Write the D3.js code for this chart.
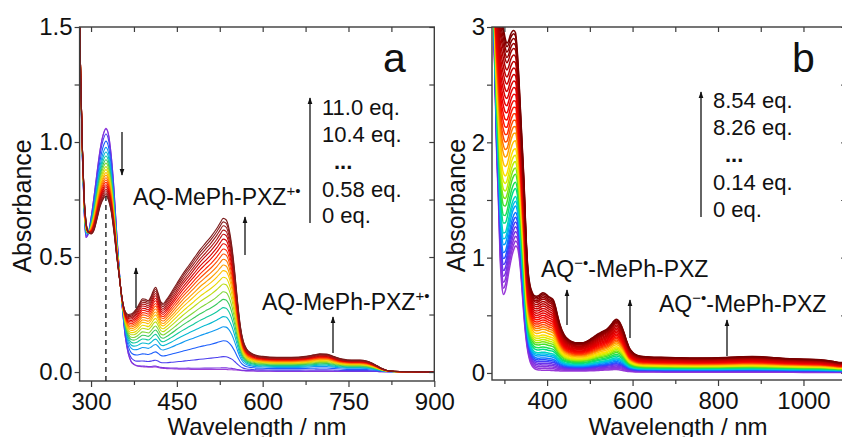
<!DOCTYPE html>
<html>
<head>
<meta charset="utf-8">
<script src="https://cdn.jsdelivr.net/npm/d3@7"></script>
<style>
  html, body { margin: 0; padding: 0; background: #fff; }
  svg text { font-family: "Liberation Sans", Arial, Helvetica, sans-serif; fill: #111; }
</style>
</head>
<body>
<svg id="chart" width="842" height="437"></svg>
<script>
// ---------- Panel a: titration with oxidant (AQ-MePh-PXZ radical cation) ----------
const wavelengthsA = [280, 282, 285, 288, 291, 295, 300, 305, 310, 316, 322, 326, 330, 335, 340, 345, 350, 355, 360, 365,
  370, 375, 380, 385, 390, 395, 400, 405, 410, 413, 417, 422, 426, 432, 440, 450, 460, 470, 480, 490,
  500, 510, 520, 526, 531, 536, 541, 546, 551, 556, 561, 566, 572, 580, 590, 600, 625, 650, 675, 690,
  700, 712, 725, 740, 755, 770, 782, 792, 800, 808, 816, 825, 840, 870, 900];
// spectrum at 0 eq.
const absStartA = [1.55, 1.25, 0.92, 0.70, 0.585, 0.60, 0.67, 0.76, 0.86, 0.97, 1.04, 1.06, 1.04, 0.95, 0.80, 0.60, 0.42, 0.27, 0.15, 0.08,
  0.045, 0.032, 0.026, 0.024, 0.023, 0.022, 0.021, 0.021, 0.022, 0.022, 0.020, 0.017, 0.016, 0.015, 0.014, 0.013, 0.012, 0.012, 0.011, 0.011,
  0.011, 0.011, 0.011, 0.011, 0.011, 0.011, 0.010, 0.010, 0.009, 0.008, 0.007, 0.006, 0.005, 0.005, 0.004, 0.004, 0.003, 0.003, 0.003, 0.003,
  0.003, 0.003, 0.003, 0.002, 0.002, 0.002, 0.002, 0.002, 0.002, 0.001, 0.001, 0.001, 0.001, 0.000, 0.000];
// spectrum at 11.0 eq.
const absEndA = [1.55, 1.28, 0.97, 0.76, 0.66, 0.61, 0.60, 0.615, 0.66, 0.72, 0.755, 0.765, 0.75, 0.70, 0.61, 0.50, 0.40, 0.31, 0.262, 0.250,
  0.252, 0.262, 0.278, 0.300, 0.318, 0.316, 0.310, 0.330, 0.360, 0.368, 0.345, 0.305, 0.298, 0.315, 0.345, 0.385, 0.425, 0.460, 0.495, 0.530,
  0.560, 0.590, 0.625, 0.650, 0.668, 0.662, 0.625, 0.550, 0.440, 0.310, 0.200, 0.135, 0.100, 0.082, 0.072, 0.068, 0.064, 0.064, 0.068, 0.075,
  0.079, 0.078, 0.067, 0.056, 0.052, 0.052, 0.048, 0.038, 0.027, 0.016, 0.008, 0.004, 0.002, 0.001, 0.000];
// absorbance at 531 nm of every recorded spectrum, 0 eq. -> 11.0 eq.
const peak531A = [0.011, 0.018, 0.067, 0.136, 0.197, 0.241, 0.280, 0.316, 0.349, 0.383, 0.412, 0.441,
  0.465, 0.490, 0.513, 0.535, 0.558, 0.578, 0.599, 0.617, 0.636, 0.653, 0.668];
const legendA = ["11.0 eq.", "10.4 eq.", "...", "0.58 eq.", "0 eq."];
const xTicksA = [300, 450, 600, 750, 900];
const yTicksA = [0.0, 0.5, 1.0, 1.5];

// ---------- Panel b: titration with reductant (AQ radical anion) ----------
const wavelengthsB = [270, 274, 278, 282, 286, 290, 294, 298, 302, 306, 310, 314, 318, 322, 326, 330, 334, 338, 342, 346,
  350, 355, 360, 365, 370, 375, 380, 385, 390, 395, 400, 405, 410, 415, 420, 425, 430, 440, 450, 460,
  470, 480, 490, 500, 510, 520, 530, 540, 550, 556, 562, 568, 574, 580, 586, 592, 600, 610, 620, 635,
  650, 675, 700, 750, 800, 850, 880, 910, 950, 1000, 1040, 1070, 1085, 1100];
// spectrum at 0 eq.
const absStartB = [3.50, 3.15, 2.55, 1.90, 1.50, 1.00, 0.76, 0.68, 0.71, 0.78, 0.87, 0.95, 1.02, 1.07, 1.10, 1.09, 1.02, 0.88, 0.68, 0.48,
  0.32, 0.18, 0.10, 0.06, 0.04, 0.030, 0.026, 0.025, 0.024, 0.024, 0.024, 0.023, 0.022, 0.021, 0.020, 0.019, 0.018, 0.017, 0.017, 0.017,
  0.017, 0.017, 0.018, 0.019, 0.020, 0.022, 0.024, 0.026, 0.028, 0.030, 0.030, 0.028, 0.024, 0.019, 0.015, 0.012, 0.010, 0.009, 0.008, 0.008,
  0.008, 0.007, 0.007, 0.007, 0.006, 0.006, 0.006, 0.006, 0.006, 0.005, 0.005, 0.005, 0.005, 0.005];
// spectrum at 8.54 eq.
const absEndB = [3.60, 3.50, 3.40, 3.30, 3.20, 3.12, 3.05, 2.98, 2.90, 2.86, 2.88, 2.93, 2.96, 2.97, 2.95, 2.80, 2.55, 2.25, 1.95, 1.65,
  1.25, 0.90, 0.76, 0.70, 0.67, 0.665, 0.670, 0.685, 0.695, 0.690, 0.675, 0.660, 0.650, 0.630, 0.570, 0.490, 0.420, 0.330, 0.290, 0.270,
  0.262, 0.262, 0.270, 0.290, 0.315, 0.340, 0.360, 0.380, 0.420, 0.450, 0.465, 0.450, 0.410, 0.350, 0.280, 0.220, 0.180, 0.155, 0.145, 0.140,
  0.137, 0.135, 0.133, 0.130, 0.133, 0.140, 0.143, 0.138, 0.128, 0.120, 0.115, 0.100, 0.090, 0.090];
// absorbance at 390 nm of every recorded spectrum, 0 eq. -> 8.54 eq.
const band390B = [0.024, 0.040, 0.055, 0.070, 0.085, 0.100, 0.115, 0.130, 0.150, 0.165, 0.180, 0.205, 0.225,
  0.250, 0.270, 0.290, 0.310, 0.330, 0.355, 0.380, 0.400, 0.420, 0.440, 0.460, 0.480, 0.500, 0.520,
  0.540, 0.560, 0.580, 0.600, 0.620, 0.640, 0.655, 0.670, 0.685, 0.695];
const legendB = ["8.54 eq.", "8.26 eq.", "...", "0.14 eq.", "0 eq."];
const xTicksB = [400, 600, 800, 1000];
const yTicksB = [0, 1, 2, 3];

// ---------- helpers ----------
const svg = d3.select("#chart");
const frameColor = "#3c3c3c";

// Each recorded spectrum is the two-component mixture whose weight
// reproduces its absorbance at the reference band.
function buildSpectra(wl, start, end, refWl, refValues) {
  const k = wl.indexOf(refWl);
  return refValues.map(v => {
    const w = (v - start[k]) / (end[k] - start[k]);
    return wl.map((l, i) => [l, start[i] + w * (end[i] - start[i])]);
  });
}

const defs = svg.append("defs");
defs.append("marker")
  .attr("id", "head").attr("viewBox", "0 0 10 10")
  .attr("refX", 9).attr("refY", 5)
  .attr("markerWidth", 7).attr("markerHeight", 7)
  .attr("markerUnits", "userSpaceOnUse")
  .attr("orient", "auto")
  .append("path").attr("d", "M0,1.5 L10,5 L0,8.5 Z").attr("fill", "#111");

function arrow(x, y1, y2) {
  svg.append("line")
    .attr("x1", x).attr("x2", x).attr("y1", y1).attr("y2", y2)
    .attr("stroke", "#111").attr("stroke-width", 1.3)
    .attr("marker-end", "url(#head)");
}

function drawPanel(p) {
  const x = d3.scaleLinear().domain(p.xDomain).range([p.left, p.right]);
  const y = d3.scaleLinear().domain(p.yDomain).range([p.bottom, p.top]);
  const g = svg.append("g");

  defs.append("clipPath").attr("id", "clip-" + p.id)
    .append("rect")
    .attr("x", p.left).attr("y", p.top)
    .attr("width", p.right - p.left).attr("height", p.bottom - p.top);

  const colour = d3.piecewise(d3.interpolateRgb, p.palette);
  const line = d3.line().x(d => x(d[0])).y(d => y(d[1])).curve(d3.curveMonotoneX);
  const n = p.spectra.length;
  g.append("g").attr("clip-path", `url(#clip-${p.id})`)
    .selectAll("path").data(p.spectra).join("path")
    .attr("d", line)
    .attr("fill", "none")
    .attr("stroke", (d, i) => colour(i / (n - 1)))
    .attr("stroke-width", p.lineWidth);

  // axes
  const bottom = g.append("g").attr("transform", `translate(0,${p.bottom})`);
  bottom.call(d3.axisBottom(x).tickValues(p.xTicks).tickSize(6).tickPadding(6).tickFormat(d3.format("d")));
  bottom.append("g").call(d3.axisBottom(x).tickValues(p.xMinor).tickSize(4).tickFormat(""));
  const top = g.append("g").attr("transform", `translate(0,${p.top})`);
  top.call(d3.axisTop(x).tickValues(p.xTopTicks).tickSize(-5).tickFormat(""));
  const left = g.append("g").attr("transform", `translate(${p.left},0)`);
  left.call(d3.axisLeft(y).tickValues(p.yTicks).tickSize(5).tickPadding(2).tickFormat(p.yFormat));
  left.append("g").call(d3.axisLeft(y).tickValues(p.yMinor).tickSize(5).tickFormat(""));
  const right = g.append("g").attr("transform", `translate(${p.right},0)`);
  right.call(d3.axisRight(y).tickValues(p.yTicks.concat(p.yMinor)).tickSize(-5).tickFormat(""));

  g.selectAll(".domain").remove();
  g.selectAll(".tick line").attr("stroke", frameColor).attr("stroke-width", 1.2);
  g.selectAll(".tick text").attr("font-size", 24).attr("fill", "#111");

  g.append("rect")
    .attr("x", p.left).attr("y", p.top)
    .attr("width", p.right - p.left).attr("height", p.bottom - p.top)
    .attr("fill", "none").attr("stroke", frameColor).attr("stroke-width", 1.4);

  // axis titles
  g.append("text")
    .attr("transform", `translate(${p.yTitleX},${(p.top + p.bottom) / 2 + 2}) rotate(-90)`)
    .attr("text-anchor", "middle").attr("font-size", 25)
    .text("Absorbance");
  g.append("text")
    .attr("x", p.xTitleX).attr("y", p.xTitleY)
    .attr("text-anchor", "middle").attr("font-size", 24)
    .text("Wavelength / nm");

  // panel letter
  g.append("text").attr("x", p.letterX).attr("y", 72).attr("font-size", 41).text(p.letter);

  // legend of equivalents
  arrow(p.legendX, p.legendBottom, p.legendTop);
  p.legend.forEach((t, i) => {
    const isDots = t === "...";
    g.append("text")
      .attr("x", isDots ? p.legendX + 24 : p.legendX + 12)
      .attr("y", p.legendRows[i])
      .attr("font-size", 22)
      .attr("font-weight", isDots ? "bold" : "normal")
      .text(t);
  });
  return { x, y, g };
}

// ---------- panel a ----------
const spectraA = buildSpectra(wavelengthsA, absStartA, absEndA, 531, peak531A);
const pa = drawPanel({
  id: "a", letter: "a", letterX: 383,
  left: 79.6, right: 434.3, top: 27, bottom: 381,
  xDomain: [280, 900], yDomain: [-0.039, 1.5],
  xTicks: xTicksA, xMinor: [375, 525, 675, 825], xTopTicks: [300, 375, 450, 525, 600, 675, 750, 825],
  yTicks: yTicksA, yMinor: [0.25, 0.75, 1.25], yFormat: d3.format(".1f"),
  spectra: spectraA, lineWidth: 1.1,
  palette: ["#a040d8", "#7030e0", "#2050ff", "#10a0f0", "#00c8c0", "#30c860", "#90d830", "#e0e000",
            "#ffc000", "#ff9000", "#ff5a00", "#ff2000", "#e00000", "#c00808", "#a81818", "#8c1c1c", "#7a1a1a"],
  yTitleX: 31, xTitleX: 257, xTitleY: 435,
  legend: legendA, legendX: 310, legendTop: 98, legendBottom: 223, legendRows: [115, 142, 169, 197, 223]
});

// dashed marker at the 326 nm band of the final spectrum
const iPeakA = wavelengthsA.indexOf(326);
svg.append("line")
  .attr("x1", pa.x(326)).attr("x2", pa.x(326))
  .attr("y1", pa.y(absEndA[iPeakA])).attr("y2", pa.y(-0.039))
  .attr("stroke", "#222").attr("stroke-width", 1.4).attr("stroke-dasharray", "5,4");

// species label with a raised charge/radical mark
function speciesLabel(x, y, parts) {
  const t = svg.append("text").attr("x", x).attr("y", y).attr("font-size", 23);
  let raised = false;
  parts.forEach(([s, sup]) => {
    const span = t.append("tspan").text(s);
    if (sup) {
      span.attr("dy", -9).attr("font-size", 15);
      raised = true;
    } else if (raised) {
      span.attr("dy", 9);
      raised = false;
    }
  });
}

speciesLabel(133, 205, [["AQ-MePh-PXZ", false], ["+\u2022", true]]);
speciesLabel(262, 310, [["AQ-MePh-PXZ", false], ["+\u2022", true]]);
arrow(122, 132, 175);
arrow(136, 308, 268);
arrow(245, 255, 217);
arrow(333, 353, 317);

// ---------- panel b ----------
const spectraB = buildSpectra(wavelengthsB, absStartB, absEndB, 390, band390B);
drawPanel({
  id: "b", letter: "b", letterX: 792,
  left: 492, right: 846.2, top: 27, bottom: 380,
  xDomain: [271, 1100], yDomain: [-0.061, 3],
  xTicks: xTicksB, xMinor: [300, 500, 700, 900], xTopTicks: [300, 400, 500, 600, 700, 800, 900, 1000],
  yTicks: yTicksB, yMinor: [0.5, 1.5, 2.5], yFormat: d3.format("d"),
  spectra: spectraB, lineWidth: 1.5,
  palette: ["#9a3ad8", "#8a34dc", "#7030e8", "#3040ff", "#0090ff", "#00d0e0", "#00e070", "#50e020",
            "#c8f000", "#ffe000", "#ffa000", "#ff5000", "#ff1800", "#f00000", "#e00000", "#cc0000",
            "#b80000", "#a00000", "#8a0000", "#780000"],
  yTitleX: 465, xTitleX: 678, xTitleY: 435,
  legend: legendB, legendX: 701, legendTop: 92, legendBottom: 217, legendRows: [108, 135, 162, 190, 217]
});

speciesLabel(541, 277, [["AQ", false], ["\u2212\u2022", true], ["-MePh-PXZ", false]]);
speciesLabel(659, 312, [["AQ", false], ["\u2212\u2022", true], ["-MePh-PXZ", false]]);
arrow(567, 325, 290);
arrow(630, 338, 300);
arrow(727, 356, 320);
</script>
</body>
</html>
